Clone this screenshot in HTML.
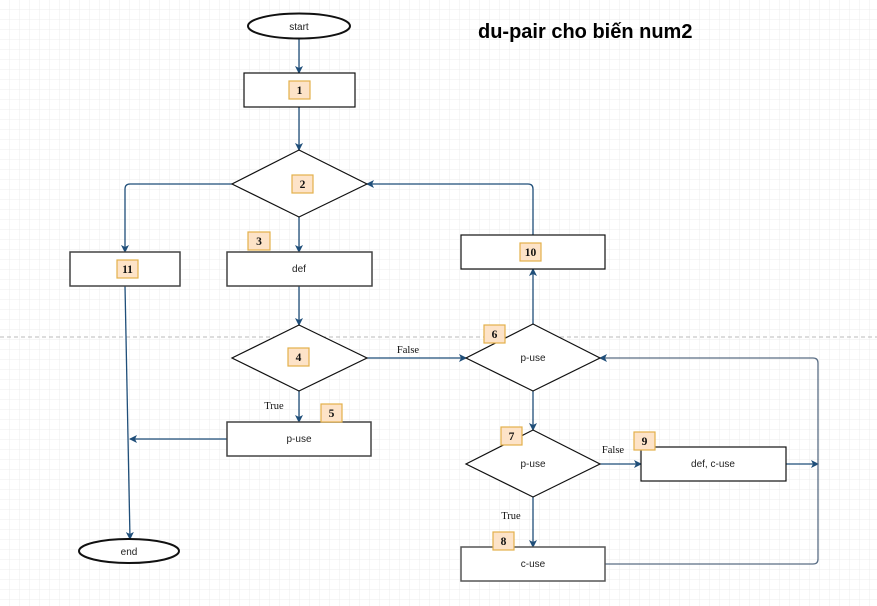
<!DOCTYPE html>
<html><head><meta charset="utf-8"><style>
body{margin:0;background:#fff}
svg{display:block}
.t{font-family:"Liberation Sans",sans-serif;font-size:10px;fill:#222}
.s{font-family:"Liberation Serif",serif;font-size:10.5px;fill:#111}
.b{font-family:"Liberation Serif",serif;font-size:11.5px;font-weight:bold;fill:#111}
</style></head><body>
<svg width="877" height="606" viewBox="0 0 877 606" xmlns="http://www.w3.org/2000/svg">
<defs>
<pattern id="g" width="10" height="10" patternUnits="userSpaceOnUse" x="0" y="0">
<path d="M10 0V10M0 10H10" fill="none" stroke="#ececec" stroke-width="1"/>
</pattern>
<marker id="a" markerWidth="8" markerHeight="8" refX="7" refY="4" orient="auto" markerUnits="userSpaceOnUse">
<path d="M0,0 L8,4 L0,8 L2,4 z" fill="#1f4e79"/>
</marker>
</defs>
<rect width="877" height="606" fill="url(#g)"/>
<line x1="0" y1="337" x2="877" y2="337" stroke="#bbb" stroke-dasharray="4,3"/>
<g fill="none" stroke="#1f4e79" stroke-width="1.3">
<path d="M299 39V73" marker-end="url(#a)"/>
<path d="M299 107V150" marker-end="url(#a)"/>
<path d="M232 184H130Q125 184 125 189V252" marker-end="url(#a)"/>
<path d="M299 217V252" marker-end="url(#a)"/>
<path d="M299 286V325" marker-end="url(#a)"/>
<path d="M367 358H466" marker-end="url(#a)"/>
<path d="M533 324V269" marker-end="url(#a)"/>
<path d="M533 235V189Q533 184 528 184H367" marker-end="url(#a)"/>
<path d="M299 391V422" marker-end="url(#a)"/>
<path d="M227 439H130" marker-end="url(#a)"/>
<path d="M125 286L130 539" marker-end="url(#a)"/>
<path d="M533 391V430" marker-end="url(#a)"/>
<path d="M600 464H641" marker-end="url(#a)"/>
<path d="M786 464H818" marker-end="url(#a)"/>
<path d="M533 497V547" marker-end="url(#a)"/>
<path d="M605 564H813Q818 564 818 559V363Q818 358 813 358H600" marker-end="url(#a)" stroke="#5a6e85"/>
</g>
<g fill="#fff" stroke="#111" stroke-width="1.2">
<ellipse cx="299" cy="26" rx="51" ry="12.5" stroke-width="2"/>
<rect x="244" y="73" width="111" height="34"/>
<path d="M299 150L367 184L299 217L232 184Z"/>
<rect x="70" y="252" width="110" height="34" stroke="#444" stroke-width="1.5"/>
<rect x="227" y="252" width="145" height="34" stroke="#444" stroke-width="1.5"/>
<path d="M299 325L367 358L299 391L232 358Z"/>
<rect x="461" y="235" width="144" height="34"/>
<path d="M533 324L600 358L533 391L466 358Z"/>
<rect x="227" y="422" width="144" height="34" stroke="#444" stroke-width="1.5"/>
<ellipse cx="129" cy="551" rx="50" ry="12" stroke-width="2"/>
<path d="M533 430L600 464L533 497L466 464Z"/>
<rect x="641" y="447" width="145" height="34"/>
<rect x="461" y="547" width="144" height="34" stroke="#555" stroke-width="1.5"/>
</g>
<g fill="#fde3c8" stroke="#e3b04b" stroke-width="1.2">
<rect x="289" y="81" width="21" height="18"/>
<rect x="292" y="175" width="21" height="18"/>
<rect x="117" y="260" width="21" height="18"/>
<rect x="248" y="232" width="22" height="18"/>
<rect x="288" y="348" width="21" height="18"/>
<rect x="520" y="243" width="21" height="18"/>
<rect x="484" y="325" width="21" height="18"/>
<rect x="321" y="404" width="21" height="18"/>
<rect x="501" y="427" width="21" height="18"/>
<rect x="634" y="432" width="21" height="18"/>
<rect x="493" y="532" width="21" height="18"/>
</g>
<g class="b" text-anchor="middle">
<text x="299.5" y="94">1</text><text x="302.5" y="188">2</text><text x="127.5" y="273">11</text>
<text x="259" y="245">3</text><text x="298.5" y="361">4</text><text x="530.5" y="256">10</text>
<text x="494.5" y="338">6</text><text x="331.5" y="417">5</text><text x="511.5" y="440">7</text>
<text x="644.5" y="445">9</text><text x="503.5" y="545">8</text>
</g>
<g class="t" text-anchor="middle">
<text x="299" y="30">start</text><text x="299" y="272">def</text><text x="533" y="361">p-use</text>
<text x="299" y="442">p-use</text><text x="129" y="555">end</text><text x="533" y="467">p-use</text>
<text x="713" y="467">def, c-use</text><text x="533" y="567">c-use</text>
</g>
<g class="s" text-anchor="middle">
<text x="408" y="353">False</text><text x="274" y="409">True</text>
<text x="613" y="453">False</text><text x="511" y="519">True</text>
</g>
<text x="478" y="38" font-family="Liberation Sans,sans-serif" font-size="20" font-weight="bold" fill="#000">du-pair cho biến num2</text>
</svg>
</body></html>
